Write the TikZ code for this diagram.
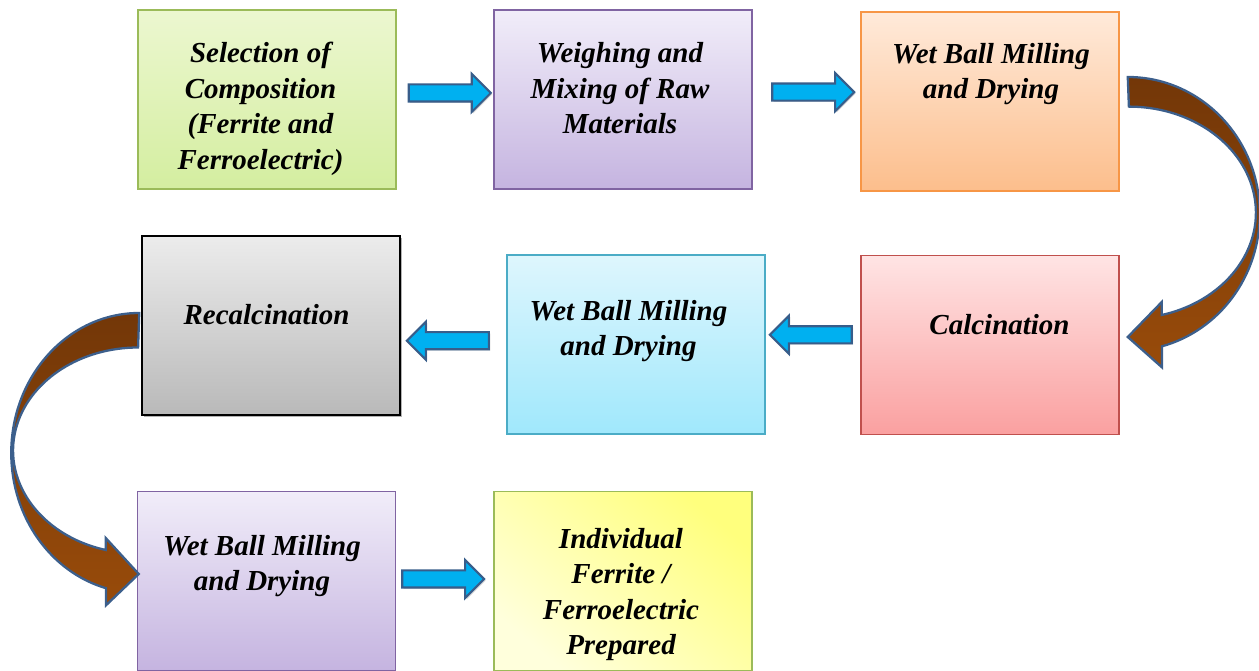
\documentclass[tikz,border=0pt]{standalone}
\usepackage{fontspec}
\setmainfont{Liberation Serif}
\usetikzlibrary{shapes,arrows,positioning,calc,shadows}

\begin{document}
\begin{tikzpicture}[x=0.02cm, y=-0.02cm,
    box/.style={rectangle, minimum width=5.16cm, minimum height=3.58cm, inner sep=0pt, line width=0.9pt},
    testo/.style={font=\fontsize{16.5}{20.2}\selectfont\bfseries\itshape, align=center, inner sep=0pt},
    freccia/.style={single arrow, draw=frecciabordo, fill=frecciablu, line width=1.2pt,
        inner xsep=0pt, inner ysep=0.15cm, minimum height=1.64cm,
        single arrow head extend=0.21cm, single arrow tip angle=90,
        drop shadow={shadow xshift=0.8pt, shadow yshift=-0.8pt, opacity=0.3}},
    curva/.style={draw=curvabordo, line width=1.3pt, top color=marroneA, bottom color=marroneB}]
    % Colori
    \definecolor{verdeA}{RGB}{236,247,208}
    \definecolor{verdeB}{RGB}{212,238,160}
    \definecolor{verdeBordo}{RGB}{155,187,89}
    \definecolor{violaA}{RGB}{241,237,249}
    \definecolor{violaB}{RGB}{197,180,224}
    \definecolor{violaBordo}{RGB}{128,100,162}
    \definecolor{arancioA}{RGB}{255,234,218}
    \definecolor{arancioB}{RGB}{252,190,140}
    \definecolor{arancioBordo}{RGB}{247,150,70}
    \definecolor{rossoA}{RGB}{255,228,228}
    \definecolor{rossoB}{RGB}{250,160,160}
    \definecolor{rossoBordo}{RGB}{192,80,77}
    \definecolor{azzurroA}{RGB}{222,246,253}
    \definecolor{azzurroB}{RGB}{160,232,252}
    \definecolor{azzurroBordo}{RGB}{75,172,198}
    \definecolor{grigioA}{RGB}{236,236,236}
    \definecolor{grigioB}{RGB}{185,185,185}
    \definecolor{gialloA}{RGB}{255,255,125}
    \definecolor{gialloB}{RGB}{255,255,220}
    \definecolor{frecciablu}{RGB}{0,176,240}
    \definecolor{frecciabordo}{RGB}{56,93,138}
    \definecolor{marroneA}{RGB}{115,55,8}
    \definecolor{marroneB}{RGB}{152,75,10}
    \definecolor{curvabordo}{RGB}{60,95,140}

    \useasboundingbox (0,0) rectangle (1259,671);

    % Riga 1
    \node[box, draw=verdeBordo, top color=verdeA, bottom color=verdeB] (sel) at (267,99.5) {};
    \node[testo] (sel-t) at ([shift={(-6.5,9.5)}]sel.center) {Selection of\\Composition\\(Ferrite and\\Ferroelectric)};

    \node[box, draw=violaBordo, top color=violaA, bottom color=violaB] (weigh) at (623,99.5) {};
    \node[testo] (weigh-t) at ([shift={(-3,-11)}]weigh.center) {Weighing and\\Mixing of Raw\\Materials};

    \node[box, draw=arancioBordo, top color=arancioA, bottom color=arancioB] (wbm1) at (990,101.5) {};
    \node[testo] (wbm1-t) at ([shift={(1,-27.5)}]wbm1.center) {Wet Ball Milling\\and Drying};

    % Riga 2
    \node[box, draw=rossoBordo, top color=rossoA, bottom color=rossoB] (calc) at (990,345) {};
    \node[testo] (calc-t) at ([shift={(9.5,-20)}]calc.center) {Calcination};

    \node[box, draw=azzurroBordo, top color=azzurroA, bottom color=azzurroB] (wbm2) at (636,344.5) {};
    \node[testo] (wbm2-t) at ([shift={(-7.5,-13.5)}]wbm2.center) {Wet Ball Milling\\and Drying};

    \node[box, draw=black, top color=grigioA, bottom color=grigioB,
        drop shadow={shadow xshift=1pt, shadow yshift=-1pt, opacity=0.6}] (recalc) at (271,325.5) {};
    \node[testo] (recalc-t) at ([shift={(-4.5,-10.5)}]recalc.center) {Recalcination};

    % Riga 3
    \node[box, draw=violaBordo, top color=violaA, bottom color=violaB] (wbm3) at (266.5,581) {};
    \node[testo] (wbm3-t) at ([shift={(-4.5,-15)}]wbm3.center) {Wet Ball Milling\\and Drying};

    \node[box, draw=verdeBordo, top color=gialloA, bottom color=gialloB, shading angle=-40] (indiv) at (623,581) {};
    \node[testo] (indiv-t) at ([shift={(-2,13.5)}]indiv.center) {Individual\\Ferrite /\\Ferroelectric\\Prepared};

    % Frecce blu
    \path (sel.east) -- (weigh.west) node[freccia, pos=0.505, yshift=0.13cm] (a1) {};
    \path (weigh.east) -- (wbm1.west) node[freccia, pos=0.523, yshift=0.17cm] (a2) {};
    \path (calc.west) -- (wbm2.east) node[freccia, shape border rotate=180, pos=0.478, yshift=0.2cm] (a3) {};
    \path (wbm2.west) -- (recalc.east) node[freccia, shape border rotate=180, pos=0.513, yshift=-0.12cm] (a4) {};
    \path (wbm3.east) -- (indiv.west) node[freccia, pos=0.44, yshift=0.04cm] (a5) {};

    % Frecce curve
    \draw[curva] ($(wbm1.east)+(8,-24.5)$) arc[start angle=-90, end angle=75, x radius=132, y radius=137]
        -- ++(0,21) -- ($(calc.east)+(8,-8)$) -- ++(34,-35) -- ++(0,13)
        arc[start angle=75, end angle=-90, x radius=127, y radius=106] -- cycle;
    \draw[curva] ($(recalc.west)+(-2,-12.5)$) arc[start angle=270, end angle=105, x radius=128, y radius=140]
        -- ++(0,17) -- ($(wbm3.west)+(2,-7)$) -- ++(-33,-36) -- ++(0,12)
        arc[start angle=105, end angle=270, x radius=125, y radius=103] -- cycle;
\end{tikzpicture}
\end{document}
